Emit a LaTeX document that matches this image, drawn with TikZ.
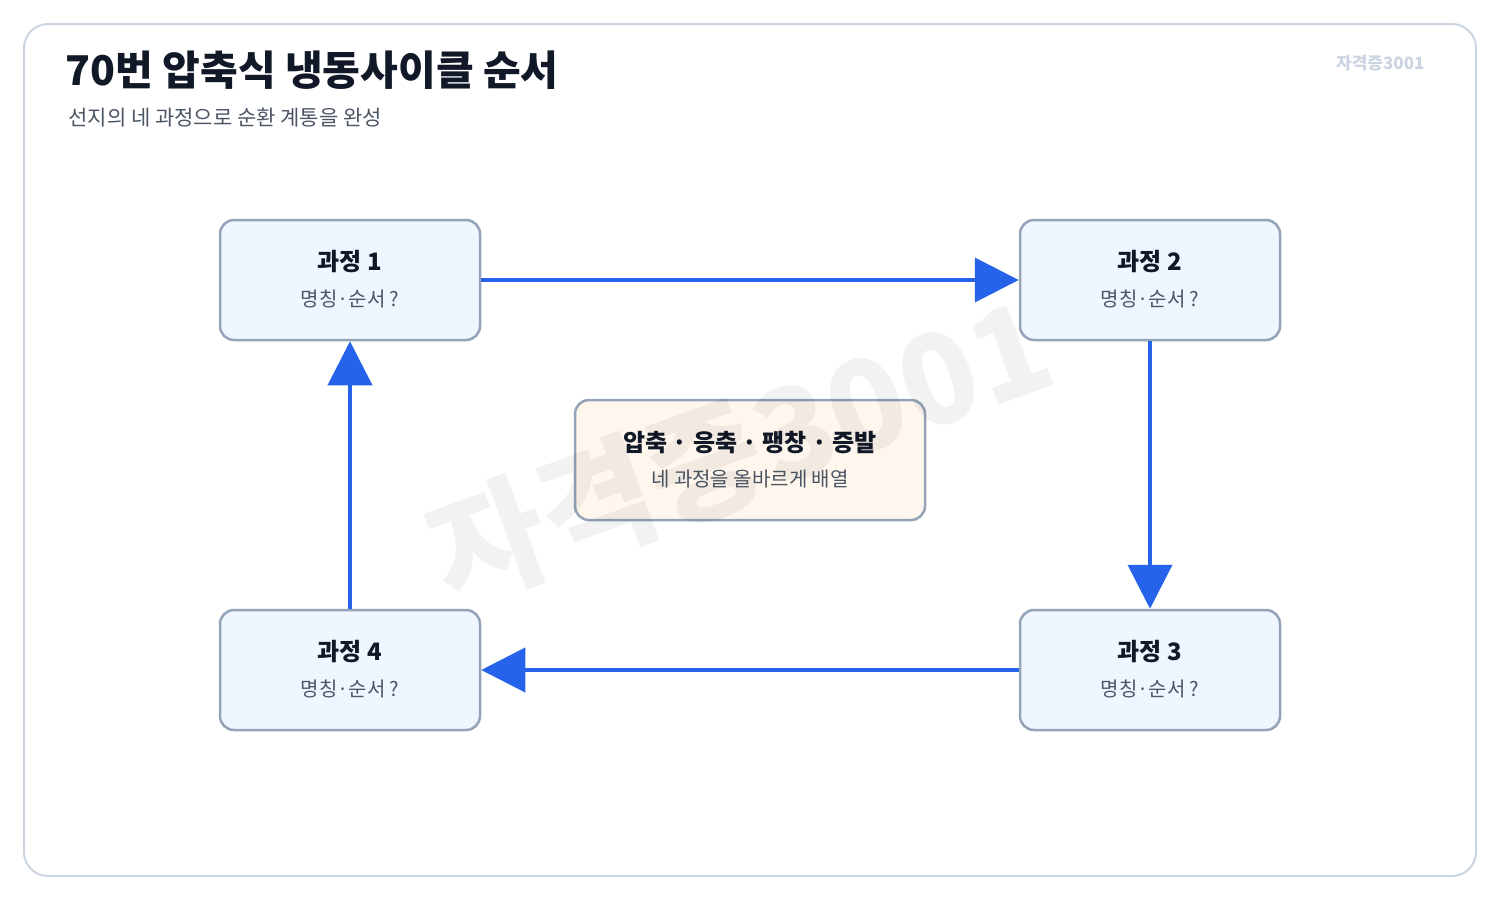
\documentclass[tikz,border=0pt]{standalone}
\usepackage{fontspec}
\setmainfont{Noto Sans CJK KR}
\usetikzlibrary{arrows.meta}
\definecolor{bd}{HTML}{94A3B8}
\definecolor{frame}{HTML}{CBD5E1}
\definecolor{bfill}{HTML}{EFF6FF}
\definecolor{cfill}{HTML}{FFF7ED}
\definecolor{blu}{HTML}{2563EB}
\definecolor{ttl}{HTML}{111827}
\definecolor{sub}{HTML}{4B5563}
\begin{document}
\begin{tikzpicture}[x=1pt,y=-1pt,
  box/.style={draw=bd,line width=2.5pt,rounded corners=14pt,fill=bfill,minimum width=260pt,minimum height=120pt},
  arr/.style={draw=blu,line width=4pt,-{Triangle[length=44pt,width=44pt]}},
  hd/.style={font=\fontsize{24}{28}\selectfont\bfseries,text=ttl},
  sb/.style={font=\fontsize{20}{24}\selectfont,text=sub}]
\useasboundingbox (0,0) rectangle (1500,900);
\draw[frame,line width=2pt,rounded corners=24pt,fill=white] (24,24) rectangle (1476,876);
\node[anchor=west,font=\fontsize{41}{46}\selectfont\bfseries,text=ttl] (title) at (62,70) {70번 압축식 냉동사이클 순서};
\node[anchor=west,font=\fontsize{21}{24}\selectfont,text=sub] (subt) at (65,118) {선지의 네 과정으로 순환 계통을 완성};
\node[anchor=east,font=\fontsize{17}{20}\selectfont\bfseries,text=frame] (mark) at (1428,63) {자격증3001};
\foreach \n/\x/\y/\k in {p1/350/280/1,p2/1150/280/2,p3/1150/670/3,p4/350/670/4}{
  \node[box] (\n) at (\x,\y) {};
  \node[hd] (\n h) at (\x,\y-18) {과정 \k};
  \node[sb] (\n s) at (\x,\y+19) {명칭·순서 ?};
}
\node[box,fill=cfill,minimum width=350pt] (c) at (750,460) {};
\node[hd] (ch) at (750,442) {압축 · 응축 · 팽창 · 증발};
\node[sb] (cs) at (750,479) {네 과정을 올바르게 배열};
\draw[arr] (p1.east) -- (p2.west);
\draw[arr] (p2.south) -- (p3.north);
\draw[arr] (p3.west) -- (p4.east);
\draw[arr] (p4.north) -- (p1.south);
\node[rotate=20,font=\fontsize{125}{130}\selectfont\bfseries,text=black,opacity=0.05] (wm) at (740,450) {자격증3001};
\end{tikzpicture}
\end{document}
